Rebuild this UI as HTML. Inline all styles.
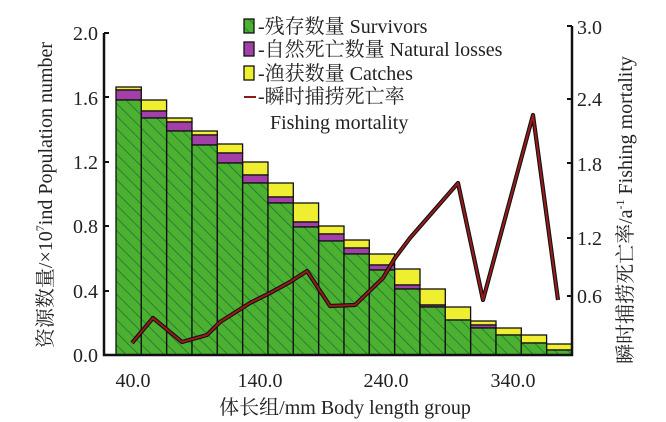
<!DOCTYPE html>
<html><head><meta charset="utf-8"><style>
html,body{margin:0;padding:0;background:#fff;width:666px;height:422px;overflow:hidden}
svg{display:block}
text{font-family:"Liberation Serif","Noto Serif CJK SC",serif;fill:#222}
</style></head><body>
<svg width="666" height="422" viewBox="0 0 666 422" xmlns="http://www.w3.org/2000/svg">
<defs>
<pattern id="h" patternUnits="userSpaceOnUse" width="9" height="9" patternTransform="rotate(-45)">
<rect width="9" height="9" fill="#4cb030"/>
<line x1="0" y1="0" x2="0" y2="9" stroke="#1d6b3a" stroke-width="1.4"/>
</pattern>
</defs>
<g stroke="#111" stroke-width="1.3">
<rect x="116.0" y="87" width="25.3" height="3" fill="#f0ee30"/><rect x="116.0" y="90" width="25.3" height="10" fill="#a23fa8"/><rect x="116.0" y="100" width="25.3" height="255" fill="url(#h)"/>
<rect x="141.3" y="100" width="25.3" height="11" fill="#f0ee30"/><rect x="141.3" y="111" width="25.3" height="7" fill="#a23fa8"/><rect x="141.3" y="118" width="25.3" height="237" fill="url(#h)"/>
<rect x="166.7" y="118" width="25.3" height="4" fill="#f0ee30"/><rect x="166.7" y="122" width="25.3" height="9" fill="#a23fa8"/><rect x="166.7" y="131" width="25.3" height="224" fill="url(#h)"/>
<rect x="192.0" y="131" width="25.3" height="4" fill="#f0ee30"/><rect x="192.0" y="135" width="25.3" height="10" fill="#a23fa8"/><rect x="192.0" y="145" width="25.3" height="210" fill="url(#h)"/>
<rect x="217.3" y="144" width="25.3" height="9" fill="#f0ee30"/><rect x="217.3" y="153" width="25.3" height="10" fill="#a23fa8"/><rect x="217.3" y="163" width="25.3" height="192" fill="url(#h)"/>
<rect x="242.7" y="162" width="25.3" height="13" fill="#f0ee30"/><rect x="242.7" y="175" width="25.3" height="8" fill="#a23fa8"/><rect x="242.7" y="183" width="25.3" height="172" fill="url(#h)"/>
<rect x="268.0" y="183" width="25.3" height="14" fill="#f0ee30"/><rect x="268.0" y="197" width="25.3" height="6" fill="#a23fa8"/><rect x="268.0" y="203" width="25.3" height="152" fill="url(#h)"/>
<rect x="293.3" y="203" width="25.3" height="19" fill="#f0ee30"/><rect x="293.3" y="222" width="25.3" height="5" fill="#a23fa8"/><rect x="293.3" y="227" width="25.3" height="128" fill="url(#h)"/>
<rect x="318.7" y="226" width="25.3" height="8" fill="#f0ee30"/><rect x="318.7" y="234" width="25.3" height="7" fill="#a23fa8"/><rect x="318.7" y="241" width="25.3" height="114" fill="url(#h)"/>
<rect x="344.0" y="240" width="25.3" height="8" fill="#f0ee30"/><rect x="344.0" y="248" width="25.3" height="6" fill="#a23fa8"/><rect x="344.0" y="254" width="25.3" height="101" fill="url(#h)"/>
<rect x="369.3" y="254" width="25.3" height="11" fill="#f0ee30"/><rect x="369.3" y="265" width="25.3" height="5" fill="#a23fa8"/><rect x="369.3" y="270" width="25.3" height="85" fill="url(#h)"/>
<rect x="394.7" y="269" width="25.3" height="16" fill="#f0ee30"/><rect x="394.7" y="285" width="25.3" height="4" fill="#a23fa8"/><rect x="394.7" y="289" width="25.3" height="66" fill="url(#h)"/>
<rect x="420.0" y="289" width="25.3" height="16" fill="#f0ee30"/><rect x="420.0" y="305" width="25.3" height="2" fill="#a23fa8"/><rect x="420.0" y="307" width="25.3" height="48" fill="url(#h)"/>
<rect x="445.3" y="307" width="25.3" height="13" fill="#f0ee30"/><rect x="445.3" y="320" width="25.3" height="35" fill="url(#h)"/>
<rect x="470.7" y="321" width="25.3" height="4" fill="#f0ee30"/><rect x="470.7" y="325" width="25.3" height="3" fill="#a23fa8"/><rect x="470.7" y="328" width="25.3" height="27" fill="url(#h)"/>
<rect x="496.0" y="328" width="25.3" height="7" fill="#f0ee30"/><rect x="496.0" y="335" width="25.3" height="20" fill="url(#h)"/>
<rect x="521.3" y="335" width="25.3" height="8" fill="#f0ee30"/><rect x="521.3" y="343" width="25.3" height="12" fill="url(#h)"/>
<rect x="546.7" y="344" width="25.3" height="6" fill="#f0ee30"/><rect x="546.7" y="350" width="25.3" height="5" fill="url(#h)"/>
</g>
<polyline points="132,343 153,318 182,342 207,335 220,322 250,303 270,293 290,282 307,271 330,306 355,305 383,278 395,258 410,238 458,183 483,300 533,115 558,300" fill="none" stroke="#111" stroke-width="4.2" stroke-linejoin="round"/>
<polyline points="132,343 153,318 182,342 207,335 220,322 250,303 270,293 290,282 307,271 330,306 355,305 383,278 395,258 410,238 458,183 483,300 533,115 558,300" fill="none" stroke="#9a1b1b" stroke-width="2" stroke-linejoin="round"/>
<g stroke="#111" stroke-width="2.5" fill="none">
<path d="M104,33 V355 H572 V26"/>
</g>
<g stroke="#111" stroke-width="2">
<path d="M104,33h5M104,97h5M104,162h5M104,226h5M104,291h5M572,26h-5M572,99h-5M572,163h-5M572,238h-5M572,296h-5"/>
</g>
<g font-size="20" text-anchor="end">
<text x="98" y="40">2.0</text><text x="98" y="105">1.6</text><text x="98" y="169">1.2</text>
<text x="98" y="233">0.8</text><text x="98" y="298">0.4</text><text x="98" y="362">0.0</text>
</g>
<g font-size="20">
<text x="577" y="34">3.0</text><text x="577" y="106">2.4</text><text x="577" y="171">1.8</text>
<text x="577" y="245">1.2</text><text x="577" y="303">0.6</text>
</g>
<g font-size="20" text-anchor="middle">
<text x="133" y="387">40.0</text><text x="260" y="387">140.0</text><text x="386" y="387">240.0</text><text x="513" y="387">340.0</text>
</g>
<text x="345" y="414" font-size="20" text-anchor="middle">体长组/mm Body length group</text>
<text transform="translate(52,195) rotate(-90)" font-size="20" text-anchor="middle">资源数量/×10<tspan font-size="12" dy="-8">7</tspan><tspan dy="8">ind Population number</tspan></text>
<text transform="translate(632,210) rotate(-90)" font-size="20" text-anchor="middle">瞬时捕捞死亡率/a<tspan font-size="12" dy="-8">-1</tspan><tspan dy="8"> Fishing mortality</tspan></text>
<g stroke="#111" stroke-width="1.3">
<rect x="244" y="19" width="10" height="14" fill="url(#h)"/>
<rect x="244" y="42" width="10" height="14" fill="#a23fa8"/>
<rect x="244" y="66" width="10" height="14" fill="#f0ee30"/>
</g>
<line x1="244" y1="97" x2="256" y2="97" stroke="#8b1a1a" stroke-width="2"/>
<g font-size="20">
<text x="258" y="33">-残存数量 Survivors</text>
<text x="258" y="56">-自然死亡数量 Natural losses</text>
<text x="258" y="80">-渔获数量 Catches</text>
<text x="258" y="103">-瞬时捕捞死亡率</text>
<text x="270" y="129">Fishing mortality</text>
</g>
</svg>
</body></html>
